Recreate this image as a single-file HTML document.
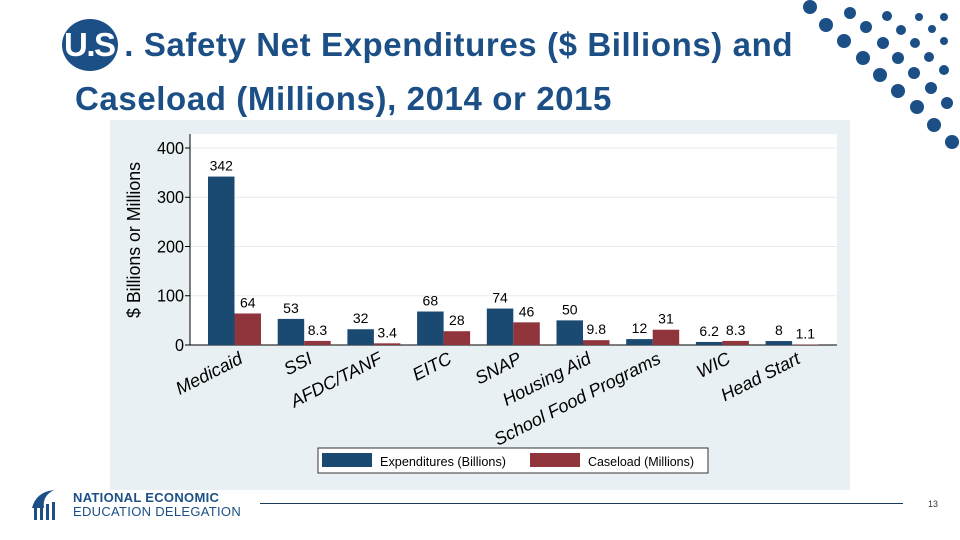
<!DOCTYPE html>
<html><head><meta charset="utf-8">
<style>
body{margin:0;width:960px;height:540px;background:#fff;overflow:hidden;position:relative;font-family:"Liberation Sans",sans-serif}
.title{position:absolute;left:75px;font-family:"Liberation Sans",sans-serif;font-weight:bold;font-size:33px;color:#1b4f86;letter-spacing:0.6px;white-space:nowrap}
svg text{font-family:"Liberation Sans",sans-serif}
</style></head><body>
<div style="position:absolute;left:62px;top:19px;width:56px;height:52px;border-radius:50%;background:#1b4f86"></div>
<div class="title" style="top:26px;left:64px"><span style="color:#fff;letter-spacing:-1.5px">U.S</span> . Safety Net Expenditures ($ Billions) and</div>
<div class="title" style="top:80px">Caseload (Millions), 2014 or 2015</div>
<svg id="dots" width="960" height="160" style="position:absolute;left:0;top:0"></svg>
<svg id="chart" width="960" height="540" style="position:absolute;left:0;top:0"></svg>
<div style="position:absolute;left:28px;top:488px;width:34px;height:34px">
<svg width="34" height="34"><path d="M4 20 Q8 4 26 2 Q14 8 16 20 Z" fill="#1b4f86"/><rect x="6" y="20" width="3" height="12" fill="#1b4f86"/><rect x="12" y="18" width="3" height="14" fill="#1b4f86"/><rect x="18" y="16" width="3" height="16" fill="#1b4f86"/><rect x="24" y="14" width="3" height="18" fill="#1b4f86"/></svg></div>
<div style="position:absolute;left:73px;top:491px;font-size:13px;font-weight:bold;color:#1b4f86;line-height:14px;letter-spacing:0.3px">NATIONAL ECONOMIC<br><span style="font-weight:normal">EDUCATION DELEGATION</span></div>
<div style="position:absolute;left:260px;top:503px;width:643px;height:1px;background:#1b3a55"></div>
<div style="position:absolute;left:928px;top:499px;font-size:9px;color:#333">13</div>
<script>
const categories=["Medicaid","SSI","AFDC/TANF","EITC","SNAP","Housing Aid","School Food Programs","WIC","Head Start"];
const expenditures=[342,53,32,68,74,50,12,6.2,8];
const caseload=[64,8.3,3.4,28,46,9.8,31,8.3,1.1];
const expLabels=["342","53","32","68","74","50","12","6.2","8"];
const caseLabels=["64","8.3","3.4","28","46","9.8","31","8.3","1.1"];
const yTicks=[0,100,200,300,400];
const NS="http://www.w3.org/2000/svg";
const svg=document.getElementById('chart');
function mk(t,a,p){const e=document.createElementNS(NS,t);for(const k in a)e.setAttribute(k,a[k]);(p||svg).appendChild(e);return e;}
const y0=345,y400=148;
const yS=v=>y0-(y0-y400)*v/400;
const xS=i=>208+i*69.7;
const bw=26.5;
let e;
e=mk('rect',{x:110,y:120,width:740,height:370,fill:'#e9f0f3'});


e=mk('rect',{x:190,y:134,width:647,height:211,fill:'#fff'});


yTicks.forEach(t=>{
  const y=yS(t);
  if(t>0){e=mk('line',{x1:190,x2:837,y1:y,y2:y,stroke:'#e6ecef','stroke-width':1});
  
  }
  e=mk('line',{x1:185,x2:190,y1:y,y2:y,stroke:'#000'});
  
  
  e=mk('text',{x:184,y:y+6,'text-anchor':'end','font-size':18,fill:'#000',transform:`translate(${184*0.1} 0) scale(0.9 1)`});e.textContent=t;
  
  
});
e=mk('line',{x1:190,x2:190,y1:134,y2:345,stroke:'#000'});


e=mk('line',{x1:190,x2:837,y1:345,y2:345,stroke:'#000'});


e=mk('text',{x:140,y:240,'text-anchor':'middle','font-size':18,textLength:156,lengthAdjust:'spacingAndGlyphs',transform:'rotate(-90 140 240)'});e.textContent='$ Billions or Millions';


categories.forEach((c,i)=>{
  const x=xS(i);
  e=mk('rect',{x:x,y:yS(expenditures[i]),width:bw,height:y0-yS(expenditures[i]),fill:'#1a4a72'});
  
  
  e=mk('rect',{x:x+bw,y:yS(caseload[i]),width:bw,height:y0-yS(caseload[i]),fill:'#90353b'});
  
  
  e=mk('text',{x:x+bw/2,y:yS(expenditures[i])-6,'text-anchor':'middle','font-size':14});e.textContent=expLabels[i];
  
  
  e=mk('text',{x:x+bw*1.5,y:yS(caseload[i])-6,'text-anchor':'middle','font-size':14});e.textContent=caseLabels[i];
  
  
  const lx=x+bw+3,ly=350;
  e=mk('text',{x:lx,y:ly+14,'text-anchor':'end','font-size':18,'font-style':'italic',transform:`rotate(-27 ${lx} ${ly})`});e.textContent=c;
  
  
});
e=mk('rect',{x:318,y:448,width:390,height:25,fill:'#fff',stroke:'#333'});


e=mk('rect',{x:322,y:453,width:50,height:14,fill:'#1a4a72'});


e=mk('text',{x:380,y:466,'font-size':13,textLength:126,lengthAdjust:'spacingAndGlyphs'});e.textContent='Expenditures (Billions)';


e=mk('rect',{x:530,y:453,width:50,height:14,fill:'#90353b'});


e=mk('text',{x:588,y:466,'font-size':13,textLength:106,lengthAdjust:'spacingAndGlyphs'});e.textContent='Caseload (Millions)';


const dots=document.getElementById('dots');
[[810,7,7],[850,13,6],[887,16,5],[919,17,4],[944,17,4],[826,25,7],[866,27,6],[901,30,5],[932,29,4],[844,41,7],[883,43,6],[915,43,5],[944,41,4],[863,58,7],[898,58,6],[929,57,5],[880,75,7],[914,73,6],[944,70,5],[898,91,7],[931,88,6],[917,107,7],[947,103,6],[934,125,7],[952,142,7]].forEach(d=>{
  const c=document.createElementNS(NS,'circle');c.setAttribute('cx',d[0]);c.setAttribute('cy',d[1]);c.setAttribute('r',d[2]);c.setAttribute('fill','#1b4f86');
  
  
  dots.appendChild(c);
});
</script>
</body></html>
